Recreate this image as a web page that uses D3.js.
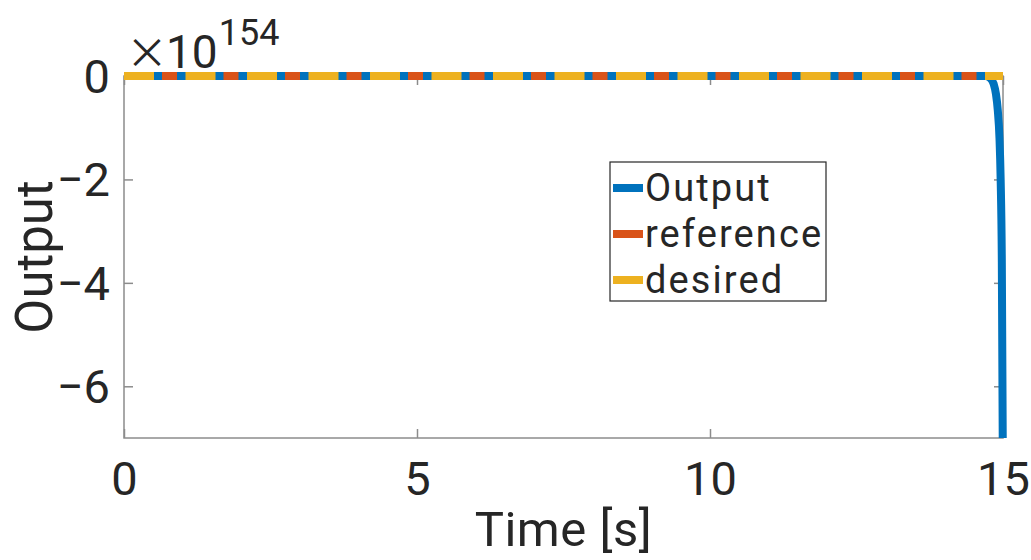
<!DOCTYPE html>
<html>
<head>
<meta charset="utf-8">
<script src="https://cdn.jsdelivr.net/npm/d3@7"></script>
<style>
  body { margin: 0; background: #fff; }
  text { font-family: Roboto, "Noto Sans", sans-serif; fill: #262626; }
</style>
</head>
<body>
<svg id="chart" width="1031" height="560"></svg>
<script>
// data (y values in units of 1e154)
const outT = [0, 14.7, 14.78, 14.84, 14.88, 14.91, 14.94, 14.96, 14.98, 15];
const outY = [0, 0, -0.04, -0.15, -0.35, -0.65, -1.2, -2.0, -3.6, -8];
const refT = [0, 15];
const refY = [0, 0];
const desT = [0, 15];
const desY = [0, 0];
const xTicks = [0, 5, 10, 15];
const yTicks = [0, -2, -4, -6];
const names = ["Output", "reference", "desired"];
const colours = ["#0072BD", "#D95319", "#EDB120"];

const svg = d3.select("#chart");
const m = { left: 124, right: 1003, top: 76, bottom: 438 };
const x = d3.scaleLinear().domain([0, 15]).range([m.left, m.right]);
const y = d3.scaleLinear().domain([-7, 0]).range([m.bottom, m.top]);

svg.append("defs").append("clipPath").attr("id", "clip")
  .append("rect").attr("x", m.left - 10).attr("y", m.top - 10)
  .attr("width", m.right - m.left + 20).attr("height", m.bottom - m.top + 10);

// axes box
const axisCol = "#8c8c8c";
svg.append("rect").attr("x", m.left).attr("y", m.top)
  .attr("width", m.right - m.left).attr("height", m.bottom - m.top)
  .attr("fill", "none").attr("stroke", axisCol).attr("stroke-width", 1.5);

const xAx = svg.append("g").attr("transform", `translate(0,${m.bottom})`)
  .call(d3.axisBottom(x).tickValues(xTicks).tickSize(-9).tickPadding(24).tickFormat(d3.format("d")));
const yAx = svg.append("g").attr("transform", `translate(${m.left},0)`)
  .call(d3.axisLeft(y).tickValues(yTicks).tickSize(-9).tickPadding(14).tickFormat(d => d < 0 ? "\u2212" + Math.abs(d) : d));
const yAxR = svg.append("g").attr("transform", `translate(${m.right},0)`)
  .call(d3.axisRight(y).tickValues(yTicks).tickSize(-9).tickFormat(""));
const xAxT = svg.append("g").attr("transform", `translate(0,${m.top})`)
  .call(d3.axisTop(x).tickValues(xTicks).tickSize(-9).tickFormat(""));
[xAx, yAx, yAxR, xAxT].forEach(g => {
  g.select(".domain").remove();
  g.selectAll("line").attr("stroke", axisCol).attr("stroke-width", 1.5);
});
xAx.selectAll("text").style("font-size", "47px").attr("dy", "0.71em");
yAx.selectAll("text").style("font-size", "47px").attr("dy", "0.35em");

// labels
svg.append("text").attr("x", x(7.5)).attr("y", 546).attr("text-anchor", "middle")
  .style("font-size", "49px").style("letter-spacing", "0.5px").text("Time [s]");
svg.append("text").attr("transform", `translate(52,${(m.top + m.bottom) / 2}) rotate(-90)`)
  .attr("text-anchor", "middle").style("font-size", "51px").text("Output");
const ex = svg.append("text").attr("x", 126).attr("y", 68).style("font-size", "46px");
ex.append("tspan").style("font-family", "'Noto Sans CJK JP'").style("font-size", "42px").text("\u00d7");
ex.append("tspan").attr("dx", -2).text("10");
ex.append("tspan").attr("dy", -23).attr("dx", 1).style("font-size", "36px").text("154");

// lines
const line = d3.line().x(d => x(d[0])).y(d => y(d[1]));
const plot = svg.append("g").attr("clip-path", "url(#clip)");
plot.append("path").datum(d3.zip(outT, outY))
  .attr("d", line.curve(d3.curveMonotoneX)).attr("fill", "none")
  .attr("stroke", colours[0]).attr("stroke-width", 8);
plot.append("path").datum(d3.zip(refT, refY))
  .attr("d", d3.line().x(d => x(d[0])).y(d => y(d[1])))
  .attr("fill", "none").attr("stroke", colours[1]).attr("stroke-width", 8)
  .attr("stroke-dasharray", "15,46.5").attr("stroke-dashoffset", 23.5);
plot.append("path").datum(d3.zip(desT, desY))
  .attr("d", d3.line().x(d => x(d[0])).y(d => y(d[1])))
  .attr("fill", "none").attr("stroke", colours[2]).attr("stroke-width", 8)
  .attr("stroke-dasharray", "30,31.5");

// legend
const lg = svg.append("g").attr("transform", "translate(610,162)");
lg.append("rect").attr("width", 216).attr("height", 139)
  .attr("fill", "#fff").attr("stroke", "#262626").attr("stroke-width", 1.2);
names.forEach((n, i) => {
  const yy = 26 + i * 46;
  lg.append("line").attr("x1", 3).attr("x2", 33).attr("y1", yy).attr("y2", yy)
    .attr("stroke", colours[i]).attr("stroke-width", 8);
  lg.append("text").attr("x", 35).attr("y", yy).attr("dy", "0.35em")
    .style("font-size", "38px").style("letter-spacing", "2.1px").text(n);
});
</script>
</body>
</html>
